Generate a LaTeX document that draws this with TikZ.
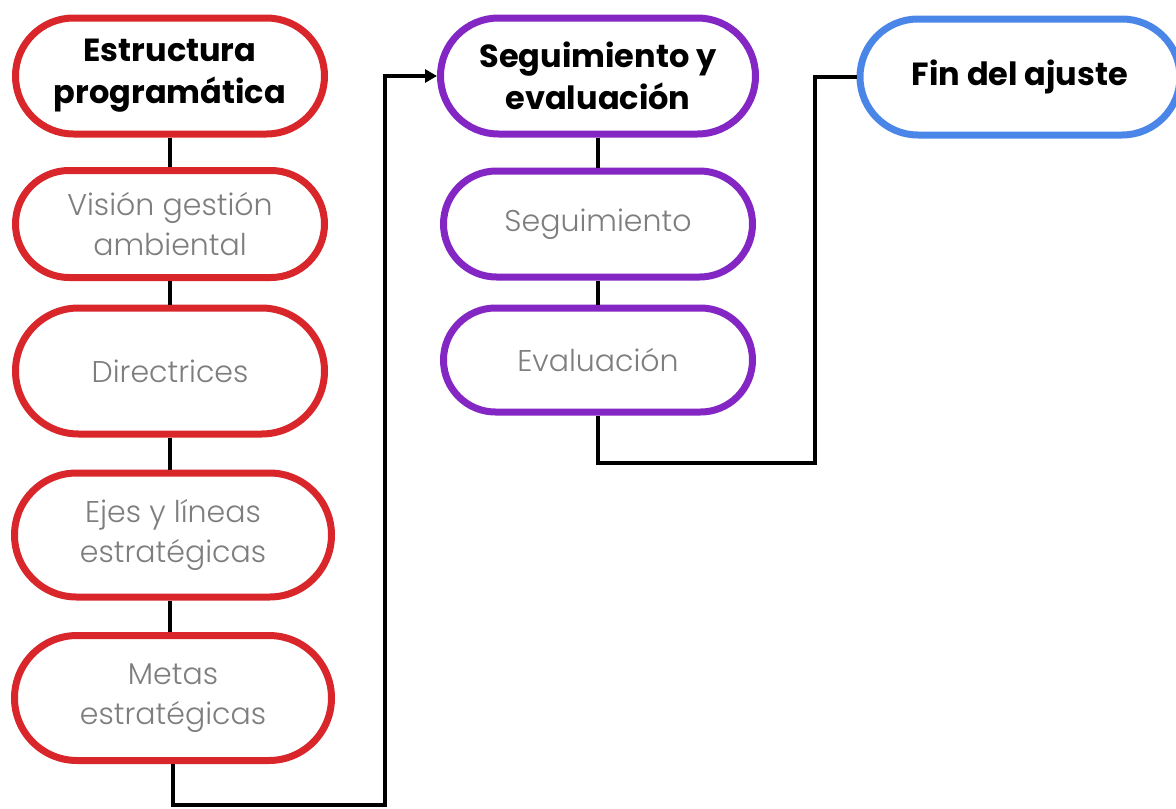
\documentclass[tikz,border=0pt]{standalone}
\usepackage{fontspec}
\setmainfont{Poppins}[BoldFont={Poppins Bold}]
\newfontfamily\lightf{Poppins Light}
\usetikzlibrary{arrows.meta,shapes.misc}
\definecolor{cred}{HTML}{D9262B}
\definecolor{cpurple}{HTML}{8326C4}
\definecolor{cblue}{HTML}{4A86E8}
\definecolor{ctext}{HTML}{7E7E7E}
\tikzset{
  pill/.style={draw, line width=7pt, fill=white, rounded rectangle, rounded rectangle arc length=180, align=center, inner sep=0pt},
  redpill/.style={pill, draw=cred},
  purplepill/.style={pill, draw=cpurple},
  bluepill/.style={pill, draw=cblue},
  titletext/.style={font=\fontsize{32}{42}\selectfont\bfseries, text=black},
  lighttext/.style={font=\lightf\fontsize{30}{40}\selectfont, text=ctext},
  link/.style={draw=black, line width=3.5pt},
}
\begin{document}
\begin{tikzpicture}[x=1pt,y=-1pt]
\useasboundingbox (0,0) rectangle (1176,809);
\clip (0,0) rectangle (1176,809);
\fill[white] (0,0) rectangle (1176,809);
% red column
\node[redpill, titletext, minimum width=309pt, minimum height=116pt] (e1) at (170,76) {Estructura\\programática};
\node[redpill, lighttext, minimum width=309pt, minimum height=107pt] (e2) at (170,224) {Visión gestión\\ambiental};
\node[redpill, lighttext, minimum width=309pt, minimum height=126pt] (e3) at (170,371) {Directrices};
\node[redpill, lighttext, minimum width=317pt, minimum height=124pt] (e4) at (173,535) {Ejes y líneas\\estratégicas};
\node[redpill, lighttext, minimum width=317pt, minimum height=125pt] (e5) at (173,698) {Metas\\estratégicas};
% purple column
\node[purplepill, titletext, minimum width=315pt, minimum height=116pt] (p1) at (598,76) {Seguimiento y\\evaluación};
\node[purplepill, lighttext, minimum width=309pt, minimum height=106pt] (p2) at (598,224) {Seguimiento};
\node[purplepill, lighttext, minimum width=309pt, minimum height=104pt] (p3) at (598,360) {Evaluación};
% blue
\node[bluepill, titletext, minimum width=320pt, minimum height=116pt] (b1) at (1020,77) {Fin del ajuste};
% coordinates
\coordinate (c1) at (385,805);
\coordinate (c2) at (815,463);
% connectors
\draw[link] (e1.south) -- (e2.north);
\draw[link] (e2.south) -- (e3.north);
\draw[link] (e3.south) -- (e3.south |- e4.north);
\draw[link] (e4.south -| e3.south) -- (e3.south |- e5.north);
\draw[link, -{Triangle[length=12pt,width=13pt]}] (e5.south) |- (c1) |- (p1.west);
\draw[link] (p1.south) -- (p2.north);
\draw[link] (p2.south) -- (p3.north);
\draw[link] (p3.south) |- (c2) |- (b1.west);
\end{tikzpicture}
\end{document}
